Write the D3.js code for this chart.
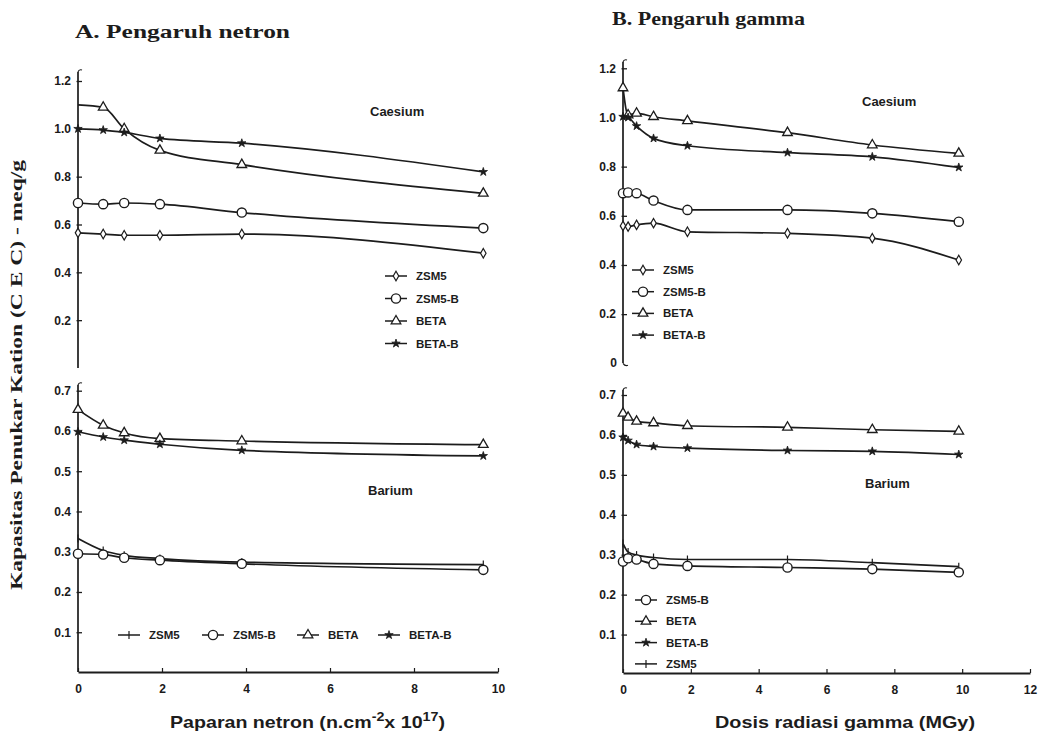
<!DOCTYPE html>
<html><head><meta charset="utf-8">
<script src="https://cdn.jsdelivr.net/npm/d3@7"></script>
<style>
html,body{margin:0;padding:0;background:#fff;}
svg{display:block;}
.tick text{font-family:"Liberation Sans Narrow","Liberation Sans",Arial,sans-serif;font-weight:bold;font-size:12px;fill:#1a1a1a;}
</style></head><body>
<svg id="chart" width="1040" height="740"></svg>
<script>
// ---------- data ----------
const seriesNames = ["ZSM5", "ZSM5-B", "BETA", "BETA-B"];
const xNeutron = [0, 0.6, 1.1, 1.95, 3.9, 9.65];
const xGamma = [0, 0.15, 0.4, 0.9, 1.9, 4.85, 7.35, 9.9];

// Neutron, Caesium
const csN_ZSM5  = [0.565, 0.56, 0.555, 0.555, 0.56, 0.48];
const csN_ZSM5B = [0.69, 0.685, 0.69, 0.685, 0.65, 0.585];
const csN_BETA  = [1.10, 1.09, 1.0, 0.91, 0.85, 0.73];
const csN_BETAB = [1.0, 0.995, 0.985, 0.96, 0.94, 0.82];
// Neutron, Barium
const baN_ZSM5  = [0.333, 0.303, 0.291, 0.283, 0.274, 0.268];
const baN_ZSM5B = [0.295, 0.293, 0.285, 0.279, 0.27, 0.255];
const baN_BETA  = [0.653, 0.614, 0.595, 0.581, 0.575, 0.566];
const baN_BETAB = [0.598, 0.585, 0.577, 0.567, 0.552, 0.538];
// Gamma, Caesium
const csG_ZSM5  = [0.559, 0.556, 0.563, 0.57, 0.535, 0.529, 0.509, 0.42];
const csG_ZSM5B = [0.692, 0.695, 0.692, 0.662, 0.624, 0.624, 0.61, 0.576];
const csG_BETA  = [1.12, 1.01, 1.017, 1.003, 0.986, 0.938, 0.888, 0.854];
const csG_BETAB = [1.003, 1.0, 0.965, 0.915, 0.885, 0.857, 0.84, 0.797];
// Gamma, Barium
const baG_ZSM5  = [0.328, 0.307, 0.299, 0.293, 0.288, 0.288, 0.28, 0.27];
const baG_ZSM5B = [0.283, 0.291, 0.288, 0.277, 0.272, 0.268, 0.264, 0.256];
const baG_BETA  = [0.654, 0.644, 0.634, 0.63, 0.623, 0.619, 0.613, 0.609];
const baG_BETAB = [0.594, 0.586, 0.576, 0.571, 0.567, 0.561, 0.559, 0.551];

// ticks & labels
const xTicksNeutron = [0, 2, 4, 6, 8, 10];
const xTicksGamma = [0, 2, 4, 6, 8, 10, 12];
const yTicksCs = [0.2, 0.4, 0.6, 0.8, 1.0, 1.2];
const yTicksBa = [0.1, 0.2, 0.3, 0.4, 0.5, 0.6, 0.7];
const titleA = "A. Pengaruh netron";
const titleB = "B. Pengaruh gamma";
const yLabel = "Kapasitas Penukar Kation (C E C) - meq/g";
const elementCs = "Caesium";
const elementBa = "Barium";

// ---------- setup ----------
const svg = d3.select("#chart");
const ink = "#1c1c1c";
const sans = "Liberation Sans, Arial, sans-serif";
const xN = d3.scaleLinear().domain([0, 10]).range([78, 498]);
const xG = d3.scaleLinear().domain([0, 12]).range([623, 1030]);

const panels = [
  {x: xN, xs: xNeutron, y: d3.scaleLinear().domain([0, 1.2]).range([368, 81]), ticks: yTicksCs,
   fmt: d3.format(".1f"), axisTop: 72, axisBot: 368, data: [csN_ZSM5, csN_ZSM5B, csN_BETA, csN_BETAB],
   label: elementCs, lx: 370, ly: 116, curve: d3.curveMonotoneX, skip: {2: [0]},
   legend: {type: "col", x: 385, y: 276, dy: 22.5, order: [0, 1, 2, 3]}, zsm: "diamond"},
  {x: xN, xs: xNeutron, y: d3.scaleLinear().domain([0, 0.7]).range([672.5, 390.7]), ticks: yTicksBa,
   fmt: d3.format(".1f"), axisTop: 385, axisBot: 672, data: [baN_ZSM5, baN_ZSM5B, baN_BETA, baN_BETAB],
   label: elementBa, lx: 368, ly: 495, curve: d3.curveMonotoneX,
   legend: {type: "row", y: 635, xs: [118, 202, 297, 378], order: [0, 1, 2, 3]}, zsm: "plus"},
  {x: xG, xs: xGamma, y: d3.scaleLinear().domain([0, 1.2]).range([363.3, 68.3]), ticks: yTicksCs,
   fmt: d3.format(".1f"), axisTop: 62, axisBot: 363, data: [csG_ZSM5, csG_ZSM5B, csG_BETA, csG_BETAB],
   label: elementCs, lx: 862, ly: 106, curve: d3.curveMonotoneX, zeroLabel: true,
   legend: {type: "col", x: 632, y: 270, dy: 21.7, order: [0, 1, 2, 3]}, zsm: "diamond"},
  {x: xG, xs: xGamma, y: d3.scaleLinear().domain([0, 0.7]).range([674.5, 395]), ticks: yTicksBa,
   fmt: d3.format(".1f"), axisTop: 390, axisBot: 673, data: [baG_ZSM5, baG_ZSM5B, baG_BETA, baG_BETAB],
   label: elementBa, lx: 865, ly: 488, curve: d3.curveMonotoneX,
   legend: {type: "col", x: 635, y: 600, dy: 21.3, order: [1, 2, 3, 0]}, zsm: "plus"}
];

function drawMarker(g, kind, cx, cy) {
  const s = g.append("g").attr("transform", `translate(${cx},${cy})`);
  if (kind === "circle") {
    s.append("circle").attr("r", 4.6).attr("fill", "#fff").attr("stroke", ink).attr("stroke-width", 1.4);
  } else if (kind === "triangle") {
    s.append("path").attr("d", d3.symbol(d3.symbolTriangle, 40)()).attr("fill", "#fff").attr("stroke", ink).attr("stroke-width", 1.3);
  } else if (kind === "star") {
    s.append("path").attr("d", d3.symbol(d3.symbolStar, 22)()).attr("fill", ink).attr("stroke", ink).attr("stroke-width", 0.8);
  } else if (kind === "diamond") {
    s.append("path").attr("d", d3.symbol(d3.symbolDiamond, 26)()).attr("fill", "#fff").attr("stroke", ink).attr("stroke-width", 1.2);
  } else if (kind === "plus") {
    s.append("path").attr("d", "M0,-4V4").attr("stroke", ink).attr("stroke-width", 1.2);
  }
}

panels.forEach(p => {
  const g = svg.append("g");
  g.append("line").attr("x1", p.x(0)).attr("x2", p.x(0)).attr("y1", p.axisTop).attr("y2", p.axisBot)
    .attr("stroke", ink).attr("stroke-width", 1.7);
  g.append("path").attr("d", `M${p.x(0)},${p.axisTop} q1,-3 4,-2`).attr("fill", "none").attr("stroke", ink).attr("stroke-width", 1.2);
  const ax = d3.axisLeft(p.y).tickValues(p.ticks).tickFormat(p.fmt).tickSize(-4).tickPadding(7);
  const axg = g.append("g").attr("transform", `translate(${p.x(0)},0)`).call(ax);
  axg.select(".domain").remove();
  axg.selectAll(".tick line").attr("stroke", ink).attr("stroke-width", 1.3).attr("x1", -1.5);
  if (p.zeroLabel) {
    g.append("text").attr("x", p.x(0) - 6).attr("y", p.y(0) + 4).attr("text-anchor", "end")
      .attr("font-family", sans).attr("font-weight", "bold").attr("font-size", 12)
      .attr("fill", ink).text("0");
    g.append("path").attr("d", `M${p.x(0)},${p.y(0)} q2,3 5,2`).attr("fill", "none").attr("stroke", ink).attr("stroke-width", 1.2);
  }
  g.append("text").attr("x", p.lx).attr("y", p.ly).attr("font-family", sans)
    .attr("font-weight", "bold").attr("font-size", 13).attr("fill", ink).text(p.label);

  const kinds = [p.zsm, "circle", "triangle", "star"];
  const line = d3.line().x(d => p.x(d[0])).y(d => p.y(d[1])).curve(p.curve);
  p.data.forEach((vals, i) => {
    const pts = p.xs.map((xv, j) => [xv, vals[j]]);
    g.append("path").attr("d", line(pts)).attr("fill", "none").attr("stroke", ink).attr("stroke-width", 1.7);
    const skip = (p.skip && p.skip[i]) || [];
    pts.forEach((d, j) => { if (!skip.includes(j)) drawMarker(g, kinds[i], p.x(d[0]), p.y(d[1])); });
  });

  const L = p.legend;
  L.order.forEach((si, k) => {
    let lx, ly;
    if (L.type === "col") { lx = L.x; ly = L.y + k * L.dy; } else { lx = L.xs[k]; ly = L.y; }
    g.append("line").attr("x1", lx).attr("x2", lx + 22).attr("y1", ly).attr("y2", ly)
      .attr("stroke", ink).attr("stroke-width", 1.5);
    drawMarker(g, kinds[si], lx + 11, ly);
    g.append("text").attr("x", lx + 31).attr("y", ly + 4).attr("font-family", sans)
      .attr("font-weight", "bold").attr("font-size", 11.5).attr("fill", ink).text(seriesNames[si]);
  });
});

function xAxis(scale, ticks, yPos) {
  const ax = d3.axisBottom(scale).tickValues(ticks).tickFormat(d3.format("d")).tickSize(0).tickPadding(12);
  const g = svg.append("g").attr("transform", `translate(0,${yPos})`).call(ax);
  g.select(".domain").attr("stroke", ink).attr("stroke-width", 1.9);
  g.selectAll(".tick text").attr("font-size", 12.5);
  g.selectAll(".tick").append("line").attr("y1", 0).attr("y2", -4).attr("stroke", ink).attr("stroke-width", 1.2);
}
xAxis(xN, xTicksNeutron, 672);
xAxis(xG, xTicksGamma, 673);

svg.append("text").attr("x", 75).attr("y", 38).attr("font-family", "Liberation Serif, serif").attr("font-weight", "bold")
  .attr("font-size", 19).attr("fill", ink).attr("textLength", 215).attr("lengthAdjust", "spacingAndGlyphs").text(titleA);
svg.append("text").attr("x", 612).attr("y", 25).attr("font-family", "Liberation Serif, serif").attr("font-weight", "bold")
  .attr("font-size", 19).attr("fill", ink).attr("textLength", 193).attr("lengthAdjust", "spacingAndGlyphs").text(titleB);

const xl1 = svg.append("text").attr("x", 170).attr("y", 728).attr("font-family", sans).attr("font-weight", "bold")
  .attr("font-size", 16.5).attr("fill", ink).attr("textLength", 275).attr("lengthAdjust", "spacingAndGlyphs");
xl1.append("tspan").text("Paparan netron (n.cm");
xl1.append("tspan").attr("dy", -7).attr("font-size", 12).text("-2");
xl1.append("tspan").attr("dy", 7).text("x 10");
xl1.append("tspan").attr("dy", -7).attr("font-size", 12).text("17");
xl1.append("tspan").attr("dy", 7).text(")");
svg.append("text").attr("x", 715).attr("y", 728).attr("font-family", sans).attr("font-weight", "bold")
  .attr("font-size", 16.5).attr("fill", ink).attr("textLength", 260).attr("lengthAdjust", "spacingAndGlyphs")
  .text("Dosis radiasi gamma (MGy)");

svg.append("text").attr("transform", "translate(22,375) rotate(-90)").attr("text-anchor", "middle")
  .attr("font-family", "Liberation Serif, serif").attr("font-weight", "bold").attr("font-size", 16)
  .attr("fill", ink).attr("textLength", 430).attr("lengthAdjust", "spacingAndGlyphs").text(yLabel);
</script>
</body></html>
